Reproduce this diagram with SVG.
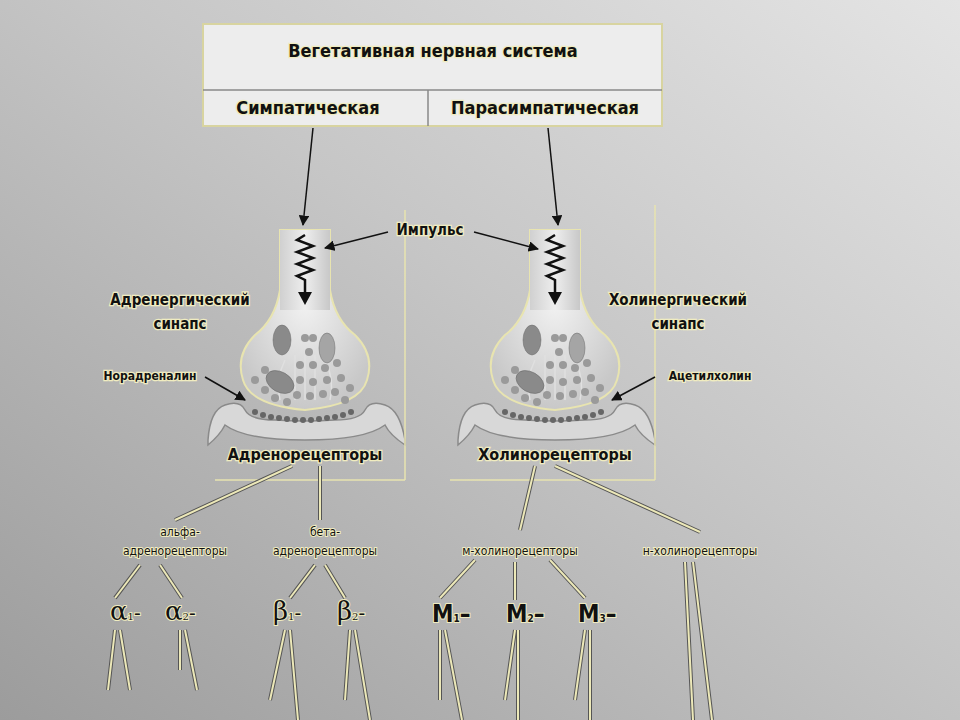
<svg xmlns="http://www.w3.org/2000/svg" width="960" height="720" viewBox="0 0 960 720">
<defs>
<linearGradient id="bg" x1="0" y1="1" x2="1" y2="0">
<stop offset="0" stop-color="#9c9c9c"/><stop offset="0.55" stop-color="#c6c6c6"/><stop offset="1" stop-color="#e4e4e4"/>
</linearGradient>
<radialGradient id="bulb" cx="0.5" cy="0.4" r="0.6">
<stop offset="0" stop-color="#f2f2f2"/><stop offset="1" stop-color="#c8c8c8"/>
</radialGradient>
<linearGradient id="stem" x1="0" x2="1"><stop offset="0" stop-color="#d0d0d0"/><stop offset="0.5" stop-color="#eeeeee"/><stop offset="1" stop-color="#c8c8c8"/></linearGradient>
<marker id="ah" viewBox="0 0 10 10" refX="9" refY="5" markerWidth="7" markerHeight="7" orient="auto"><path d="M0,0 L10,5 L0,10 z" fill="#111"/></marker>
<g id="syn">
<path d="M-25,-130 L25,-130 L25,-70 Q30,-40 50,-25 Q70,-5 62,20 Q55,45 0,50 Q-55,45 -62,20 Q-70,-5 -50,-25 Q-30,-40 -25,-70 Z" fill="url(#bulb)" stroke="#e8e4b0" stroke-width="2"/>
<rect x="-25" y="-130" width="50" height="80" fill="url(#stem)"/>
<path d="M-10,-5 v45 M0,-10 v50 M10,-5 v45 M-20,0 q-10,20 -5,40 M20,0 q10,20 5,40" stroke="#e0e0e0" stroke-width="1.5" fill="none"/>
<path d="M-97,80 Q-95,50 -80,45 Q-65,40 -60,50 Q-55,60 -30,60 Q0,62 30,60 Q55,60 60,50 Q65,40 80,45 Q95,50 100,80 L100,85 Q85,75 80,65 Q60,80 0,80 Q-60,80 -80,65 Q-85,75 -97,85 Z" fill="#d8d8d8" stroke="#8a8a8a" stroke-width="1.5"/>
<g fill="#8a8a8a" stroke="#666" stroke-width="0.5">
<ellipse cx="-23" cy="-20" rx="9" ry="15"/><ellipse cx="22" cy="-12" rx="8" ry="15" fill="#a5a5a5"/><ellipse cx="-25" cy="22" rx="15" ry="10" transform="rotate(30 -25 22)"/>
</g>
<g fill="#9a9a9a">
<circle cx="0" cy="-22" r="4"/><circle cx="8" cy="-22" r="4"/><circle cx="4" cy="-8" r="4"/><circle cx="-5" cy="5" r="4"/><circle cx="8" cy="5" r="4"/><circle cx="20" cy="8" r="4"/><circle cx="32" cy="3" r="4"/><circle cx="-40" cy="10" r="4"/><circle cx="-50" cy="20" r="4"/><circle cx="-40" cy="30" r="4"/><circle cx="-5" cy="20" r="4"/><circle cx="8" cy="22" r="4"/><circle cx="22" cy="20" r="4"/><circle cx="36" cy="18" r="4"/><circle cx="45" cy="28" r="4"/><circle cx="-8" cy="35" r="4"/><circle cx="5" cy="36" r="4"/><circle cx="18" cy="34" r="4"/><circle cx="30" cy="32" r="4"/><circle cx="-30" cy="38" r="4"/><circle cx="-18" cy="42" r="4"/><circle cx="40" cy="40" r="4"/>
</g>
<g fill="#666"><circle cx="-50" cy="52" r="3"/><circle cx="-42" cy="55" r="3"/><circle cx="-34" cy="57" r="3"/><circle cx="-26" cy="58" r="3"/><circle cx="-18" cy="59" r="3"/><circle cx="-10" cy="60" r="3"/><circle cx="-2" cy="60" r="3"/><circle cx="6" cy="60" r="3"/><circle cx="14" cy="59" r="3"/><circle cx="22" cy="58" r="3"/><circle cx="30" cy="57" r="3"/><circle cx="38" cy="55" r="3"/><circle cx="46" cy="52" r="3"/></g>
<path d="M0,-125 l-8,5 l16,6 l-16,6 l16,6 l-16,6 l16,6 l-16,6 l8,4 v12" stroke="#111" stroke-width="2.5" fill="none"/>
<path d="M-7,-68 L7,-68 L0,-55 Z" fill="#111"/>
</g>
</defs>
<style>
.t{font-family:"DejaVu Sans Condensed","DejaVu Sans",sans-serif;fill:#111;stroke:#f0ecc0;stroke-width:2.5;paint-order:stroke;font-weight:bold}
.s{font-family:"DejaVu Sans Condensed","DejaVu Sans",sans-serif;fill:#111;font-size:12px;stroke:#f0ecc0;stroke-width:2;paint-order:stroke}
.g{font-family:"DejaVu Serif","Liberation Serif",serif;fill:#111;font-size:26px;stroke:#f0ecc0;stroke-width:2;paint-order:stroke}
.m{font-family:"DejaVu Sans Condensed","DejaVu Sans",sans-serif;font-weight:bold;fill:#111;font-size:24px;stroke:#f0ecc0;stroke-width:2;paint-order:stroke}
.l{stroke:#e8e4b0;stroke-width:1.5;fill:none}
.d{stroke:#555;stroke-width:4;fill:none}
.d2{stroke:#ece8b8;stroke-width:2;fill:none}
</style>
<rect width="960" height="720" fill="url(#bg)"/>
<g id="vns">
<rect x="203" y="24" width="459" height="102" fill="#ededed" stroke="#d8d4a0" stroke-width="2"/>
<line x1="203" y1="90" x2="662" y2="90" stroke="#888" stroke-width="1.5"/>
<line x1="428" y1="90" x2="428" y2="126" stroke="#888" stroke-width="1.5"/>
<text x="433" y="57" text-anchor="middle" class="t" font-size="18" stroke-width="0">Вегетативная нервная система</text>
<text x="308" y="114" text-anchor="middle" class="t" font-size="18" stroke-width="0">Симпатическая</text>
<text x="545" y="114" text-anchor="middle" class="t" font-size="18" stroke-width="0">Парасимпатическая</text>
</g>
<g id="adr-synapse">
<use href="#syn" x="305" y="360"/>
<path class="l" d="M405,210 V480 M215,480 H405"/>
<text x="180" y="305" text-anchor="middle" class="t" font-size="15">Адренергический</text>
<text x="180" y="329" text-anchor="middle" class="t" font-size="15">синапс</text>
<text x="150" y="380" text-anchor="middle" class="t" font-size="12">Норадреналин</text>
<text x="305" y="460" text-anchor="middle" class="t" font-size="16">Адренорецепторы</text>
</g>
<g id="chol-synapse">
<use href="#syn" x="555" y="360"/>
<path class="l" d="M655,205 V480 M450,480 H655"/>
<text x="678" y="305" text-anchor="middle" class="t" font-size="15">Холинергический</text>
<text x="678" y="329" text-anchor="middle" class="t" font-size="15">синапс</text>
<text x="710" y="380" text-anchor="middle" class="t" font-size="12">Ацетилхолин</text>
<text x="555" y="460" text-anchor="middle" class="t" font-size="16">Холинорецепторы</text>
</g>
<g id="impulse"><text x="430" y="235" text-anchor="middle" class="t" font-size="15">Импульс</text></g>
<g id="sub-labels">
<text x="180" y="536" text-anchor="middle" class="s">альфа-</text>
<text x="175" y="555" text-anchor="middle" class="s">адренорецепторы</text>
<text x="325" y="536" text-anchor="middle" class="s">бета-</text>
<text x="325" y="555" text-anchor="middle" class="s">адренорецепторы</text>
<text x="520" y="555" text-anchor="middle" class="s">м-холинорецепторы</text>
<text x="700" y="555" text-anchor="middle" class="s">н-холинорецепторы</text>
<text x="110" y="620" class="g">α<tspan font-size="10">1</tspan><tspan font-size="20">-</tspan></text>
<text x="165" y="620" class="g">α<tspan font-size="10">2</tspan><tspan font-size="20">-</tspan></text>
<text x="273" y="620" class="g">β<tspan font-size="10">1</tspan><tspan font-size="20">-</tspan></text>
<text x="337" y="620" class="g">β<tspan font-size="10">2</tspan><tspan font-size="20">-</tspan></text>
<text x="432" y="622" class="m">M<tspan font-size="10">1</tspan>–</text>
<text x="506" y="622" class="m">M<tspan font-size="10">2</tspan>–</text>
<text x="578" y="622" class="m">M<tspan font-size="10">3</tspan>–</text>
</g>
<g id="connectors">
<line x1="313" y1="128" x2="303" y2="225" stroke="#111" stroke-width="1.5" marker-end="url(#ah)"/>
<line x1="548" y1="128" x2="558" y2="225" stroke="#111" stroke-width="1.5" marker-end="url(#ah)"/>
<line x1="388" y1="232" x2="325" y2="248" stroke="#111" stroke-width="1.5" marker-end="url(#ah)"/>
<line x1="474" y1="232" x2="538" y2="249" stroke="#111" stroke-width="1.5" marker-end="url(#ah)"/>
<line x1="205" y1="377" x2="245" y2="400" stroke="#111" stroke-width="1.5" marker-end="url(#ah)"/>
<line x1="655" y1="377" x2="612" y2="400" stroke="#111" stroke-width="1.5" marker-end="url(#ah)"/>
<g class="d"><path d="M292,466 L175,520 M320,466 V520 M535,466 L520,530 M555,466 L700,532 M140,565 L115,598 M160,565 L182,598 M315,565 L290,598 M325,565 L345,598 M475,560 L440,598 M515,562 V600 M550,560 L585,598 M685,562 L693,720 M693,562 L712,720 M115,630 L108,690 M120,630 L130,690 M180,630 V670 M185,630 L197,690 M285,630 L270,700 M290,630 L298,720 M350,630 L345,700 M355,630 L370,720 M440,630 V700 M445,630 L462,720 M515,630 L505,700 M518,630 V720 M585,630 L575,700 M590,630 V720"/></g>
<g class="d2"><path d="M292,466 L175,520 M320,466 V520 M535,466 L520,530 M555,466 L700,532 M140,565 L115,598 M160,565 L182,598 M315,565 L290,598 M325,565 L345,598 M475,560 L440,598 M515,562 V600 M550,560 L585,598 M685,562 L693,720 M693,562 L712,720 M115,630 L108,690 M120,630 L130,690 M180,630 V670 M185,630 L197,690 M285,630 L270,700 M290,630 L298,720 M350,630 L345,700 M355,630 L370,720 M440,630 V700 M445,630 L462,720 M515,630 L505,700 M518,630 V720 M585,630 L575,700 M590,630 V720"/></g>
</g>
</svg>
